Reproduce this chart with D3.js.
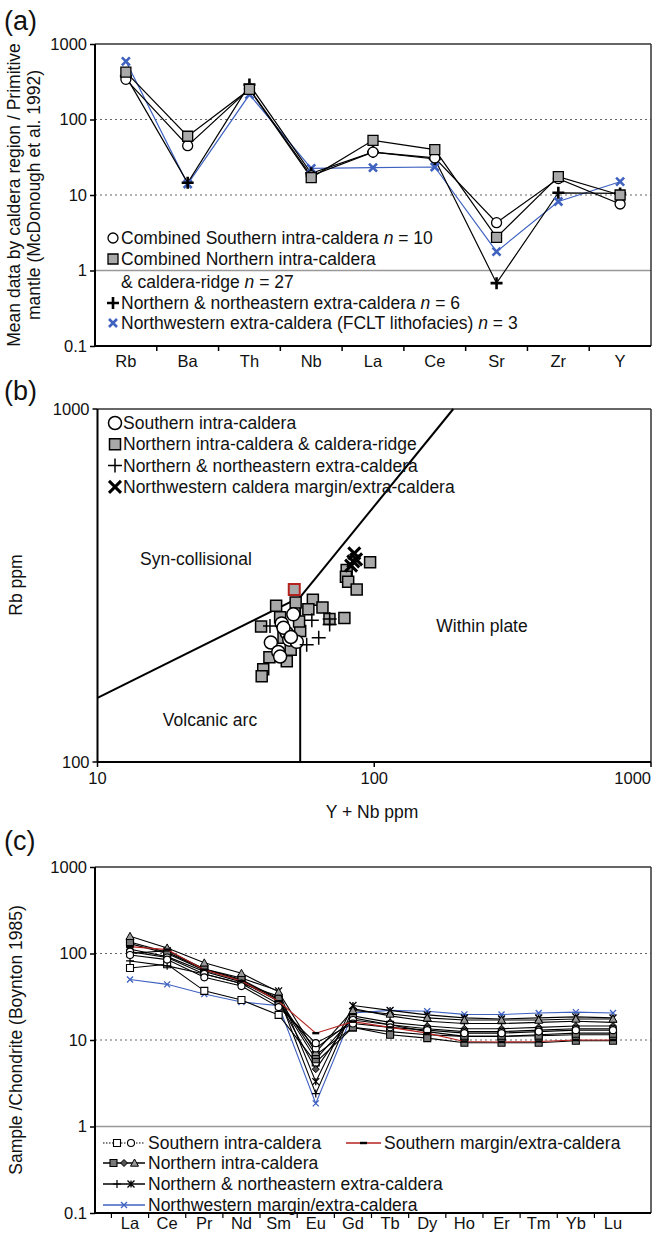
<!DOCTYPE html>
<html lang="en">
<head>
<meta charset="UTF-8">
<title>Trace element diagrams</title>
<script src="https://d3js.org/d3.v7.min.js"></script>
<style>
  * { margin: 0; padding: 0; box-sizing: border-box; }
  body { background: #fff; }
  svg { display: block; font-family: "Liberation Sans", Arial, sans-serif; }
</style>
</head>
<body>
<div id="container"></div>
<script>
// ---- panel (a): primitive-mantle normalised means ----
const elementsA = ["Rb", "Ba", "Th", "Nb", "La", "Ce", "Sr", "Zr", "Y"];
const aSouthern = [340, 45, 255, 18, 37, 31, 4.3, 16.5, 7.6];
const aNorthern = [425, 60, 250, 17, 53, 40, 2.75, 17.5, 10];
const aNorthExtra = [375, 14.5, 290, 19.4, 37, 30, 0.68, 10.7, 10.5];
const aNorthwest = [590, 14, 214, 22.5, 23, 23.5, 1.78, 8.2, 15];
const ticksLog = [0.1, 1, 10, 100, 1000];

// ---- panel (b): Rb vs Y+Nb (values are [Y+Nb, Rb]) ----
const bSouthern = [[51, 262], [46.3, 247], [48.3, 232], [42.3, 218], [49.3, 222],
  [52.5, 219], [45, 205], [45.7, 199], [47, 240], [50, 226]];
const bNorthern = [[44.2, 277], [52, 283], [60, 288], [65, 274], [57.8, 271], [78, 256],
  [68.9, 254], [39, 242], [54, 235], [45.7, 257], [49.9, 208], [41.8, 198], [48.3, 193],
  [39.7, 183], [39.2, 175], [96.6, 368], [79.5, 350], [79, 335], [80.5, 324], [86.4, 308],
  [53.5, 250], [47, 225]];
const bNorthernFlagged = [[51.4, 308]];
const bNorthExtra = [[59.5, 252], [69, 254], [69, 245], [63, 225], [57, 215], [42, 243]];
const bNorthwest = [[84.7, 390], [84, 370], [82.5, 360], [86, 375]];
const bBoundaries = [[[10, 152], [54, 293]], [[54, 293], [193, 1000]], [[54, 100], [54, 293]]];
const bTicksX = [10, 100, 1000];
const bTicksY = [100, 1000];

// ---- panel (c): chondrite-normalised REE ----
const ree = ["La", "Ce", "Pr", "Nd", "Sm", "Eu", "Gd", "Tb", "Dy", "Ho", "Er", "Tm", "Yb", "Lu"];
const cSouthSq = [68, 75, 37, 29, 19.5, 5.5, 14, 12.5, 11.5, 11, 11, 11.5, 12, 12];
const cSouthCirc1 = [96, 85, 53, 42, 24, 9.2, 15.5, 14, 13, 12, 12, 12.5, 13, 13];
const cSouthCirc2 = [105, 90, 58, 45, 26, 8, 17, 15, 13.5, 12.5, 12.5, 13, 13.5, 13.5];
const cNorthTri = [158, 116, 78, 59, 36, 7.2, 22, 20, 18, 17, 17, 17, 17.5, 17.5];
const cNorthSq1 = [136, 103, 66, 50, 30, 6.7, 14, 11.5, 10.5, 9.3, 9.3, 9.3, 9.8, 9.8];
const cNorthDia = [112, 92, 62, 47, 28, 4.6, 19, 16, 14.5, 13.5, 13.5, 14, 14.5, 14.5];
const cNorthSq2 = [130, 100, 64, 49, 29, 6, 18, 15, 12.5, 11, 11, 11.2, 11.5, 11.5];
const cExtraAst = [100, 108, 66, 52, 37, 3.3, 25, 22, 19.5, 18, 17.5, 18, 18.5, 18];
const cExtraPlus = [82, 72, 58, 45, 32, 2.4, 23, 19, 16.5, 15.5, 15.5, 16, 16.5, 16];
const cSouthMargin = [120, 111, 65, 48, 28, 12, 16.3, 14, 12, 9.6, 9.5, 9.6, 10, 10];
const cNorthwest = [50, 44, 34, 27.5, 25, 1.85, 20.5, 22, 21.5, 19.8, 19.7, 20.5, 21, 20.5];

const BLUE = "#3f62c0";
const RED = "#b5231f";
const GREY = "#a9a9a9";
const FS = 17.5;   // legend / label font
const TS = 16.5;   // tick font

const svg = d3.select("#container").append("svg")
  .attr("width", 653).attr("height", 1234);

// marker shapes as path strings
function shape(type, s) {
  const h = s / 2;
  switch (type) {
    case "square": return `M${-h},${-h}h${s}v${s}h${-s}Z`;
    case "circle": return `M${h},0A${h},${h} 0 1,1 ${-h},0A${h},${h} 0 1,1 ${h},0Z`;
    case "diamond": return `M0,${-h}L${h},0L0,${h}L${-h},0Z`;
    case "triangle": return `M0,${-h}L${h},${h * 0.8}L${-h},${h * 0.8}Z`;
    case "plus": return `M${-h},0H${h}M0,${-h}V${h}`;
    case "cross": return `M${-h},${-h}L${h},${h}M${-h},${h}L${h},${-h}`;
    case "star": return `M${-h},${-h}L${h},${h}M${-h},${h}L${h},${-h}M0,${-h}V${h}`;
    case "dash": return `M${-h},0H${h}`;
  }
}

function marker(g, x, y, st) {
  g.append("path")
    .attr("transform", `translate(${x},${y})`)
    .attr("d", shape(st.type, st.size))
    .attr("fill", st.fill || "none")
    .attr("stroke", st.stroke || "#000")
    .attr("stroke-width", st.sw || 1.2);
}

function frame(g, x0, x1, y0, y1) {
  g.append("line").attr("x1", x0).attr("x2", x1).attr("y1", y0).attr("y2", y0)
    .attr("stroke", "#333").attr("stroke-width", 1.5);
  g.append("line").attr("x1", x1).attr("x2", x1).attr("y1", y0).attr("y2", y1)
    .attr("stroke", "#333").attr("stroke-width", 1.5);
  g.append("line").attr("x1", x0).attr("x2", x1).attr("y1", y1).attr("y2", y1)
    .attr("stroke", "#000").attr("stroke-width", 2);
  g.append("line").attr("x1", x0).attr("x2", x0).attr("y1", y0).attr("y2", y1)
    .attr("stroke", "#000").attr("stroke-width", 2);
}

const fmtLog = d => d >= 1 ? d3.format("d")(d) : String(d);

function logYAxis(g, y, x0, vals) {
  const ax = g.append("g").attr("transform", `translate(${x0},0)`)
    .call(d3.axisLeft(y).tickValues(vals).tickFormat(fmtLog).tickSize(5).tickPadding(3));
  ax.select(".domain").remove();
  ax.selectAll("text").attr("font-size", TS).attr("fill", "#111");
  ax.selectAll("line").attr("stroke", "#000").attr("stroke-width", 1.5);
}

function gridLines(g, y, x0, x1) {
  [100, 10].forEach(v => g.append("line")
    .attr("x1", x0).attr("x2", x1).attr("y1", y(v)).attr("y2", y(v))
    .attr("stroke", "#666").attr("stroke-width", 1.2).attr("stroke-dasharray", "2,3"));
  g.append("line").attr("x1", x0).attr("x2", x1).attr("y1", y(1)).attr("y2", y(1))
    .attr("stroke", "#999").attr("stroke-width", 1.5);
}

function panelLabel(txt, x, y) {
  svg.append("text").attr("x", x).attr("y", y).attr("font-size", 27).attr("fill", "#111").text(txt);
}

function rotLabel(lines, x, cy, size) {
  const t = svg.append("text").attr("transform", `translate(${x},${cy}) rotate(-90)`)
    .attr("text-anchor", "middle").attr("font-size", size).attr("fill", "#111");
  lines.forEach((l, i) => t.append("tspan").attr("x", 0).attr("dy", i ? "1.15em" : 0).text(l));
}

// legend text with italic "n"
function legendText(g, x, y, parts, size) {
  const t = g.append("text").attr("x", x).attr("y", y).attr("dy", "0.35em")
    .attr("font-size", size).attr("fill", "#111");
  parts.forEach(p => t.append("tspan").attr("font-style", p.i ? "italic" : null).text(p.t));
}

// ================= (a) =================
{
  const x0 = 95, x1 = 651, y0 = 44, y1 = 346;
  const g = svg.append("g");
  const x = d3.scaleBand(elementsA, [x0, x1]);
  const y = d3.scaleLog([0.1, 1000], [y1, y0]);
  const cx = d => x(d) + x.bandwidth() / 2;

  gridLines(g, y, x0, x1);
  frame(g, x0, x1, y0, y1);
  logYAxis(g, y, x0, ticksLog);

  elementsA.slice(1).forEach(d => g.append("line")
    .attr("x1", x(d)).attr("x2", x(d)).attr("y1", y1).attr("y2", y1 + 5)
    .attr("stroke", "#000").attr("stroke-width", 1.5));
  elementsA.forEach(d => g.append("text").attr("x", cx(d)).attr("y", y1 + 21)
    .attr("text-anchor", "middle").attr("font-size", TS).attr("fill", "#111").text(d));

  const series = [
    { v: aNorthwest, color: BLUE, m: { type: "cross", size: 8, stroke: BLUE, sw: 2.6 } },
    { v: aNorthExtra, color: "#000", m: { type: "plus", size: 12, sw: 2.6 } },
    { v: aSouthern, color: "#000", m: { type: "circle", size: 10, fill: "#fff", sw: 1.3 } },
    { v: aNorthern, color: "#000", m: { type: "square", size: 10, fill: GREY, sw: 1.3 } }
  ];
  const line = d3.line().x((d, i) => cx(elementsA[i])).y(d => y(d));
  series.forEach(s => g.append("path").attr("d", line(s.v)).attr("fill", "none")
    .attr("stroke", s.color).attr("stroke-width", 1.2));
  series.forEach(s => s.v.forEach((v, i) => marker(g, cx(elementsA[i]), y(v), s.m)));

  const lg = g.append("g");
  const lx = 113, tx = 121;
  marker(lg, lx, 238, series[2].m);
  legendText(lg, tx, 238, [{ t: "Combined Southern intra-caldera " }, { t: "n", i: 1 }, { t: " = 10" }], FS);
  marker(lg, lx, 259, series[3].m);
  legendText(lg, tx, 259, [{ t: "Combined Northern intra-caldera" }], FS);
  legendText(lg, tx, 282, [{ t: "& caldera-ridge " }, { t: "n", i: 1 }, { t: " = 27" }], FS);
  marker(lg, lx, 303, series[1].m);
  legendText(lg, tx, 303, [{ t: "Northern & northeastern extra-caldera " }, { t: "n", i: 1 }, { t: " = 6" }], FS);
  marker(lg, lx, 323, series[0].m);
  legendText(lg, tx, 323, [{ t: "Northwestern extra-caldera (FCLT lithofacies) " }, { t: "n", i: 1 }, { t: " = 3" }], FS);

  panelLabel("(a)", 4, 30);
  rotLabel(["Mean data by caldera region / Primitive", "mantle (McDonough et al. 1992)"], 20, 195, FS);
}

// ================= (b) =================
{
  const x0 = 97.5, x1 = 651, y0 = 409, y1 = 762;
  const g = svg.append("g");
  const x = d3.scaleLog([10, 1000], [x0, x1]);
  const y = d3.scaleLog([100, 1000], [y1, y0]);

  frame(g, x0, x1, y0, y1);
  bTicksY.forEach(v => {
    g.append("line").attr("x1", x0 - 5).attr("x2", x0).attr("y1", y(v)).attr("y2", y(v))
      .attr("stroke", "#000").attr("stroke-width", 1.5);
    g.append("text").attr("x", x0 - 8).attr("y", y(v)).attr("dy", "0.35em")
      .attr("text-anchor", "end").attr("font-size", TS).attr("fill", "#111").text(v);
  });
  bTicksX.forEach((v, i) => {
    const last = i === bTicksX.length - 1;
    g.append("line").attr("x1", x(v)).attr("x2", x(v)).attr("y1", y1).attr("y2", y1 + 5)
      .attr("stroke", "#000").attr("stroke-width", 1.5);
    g.append("text").attr("x", x(v)).attr("y", y1 + 22)
      .attr("text-anchor", last ? "end" : "middle")
      .attr("font-size", TS).attr("fill", "#111").text(v);
  });

  const bl = d3.line().x(d => x(d[0])).y(d => y(d[1]));
  bBoundaries.forEach(seg => g.append("path").attr("d", bl(seg))
    .attr("fill", "none").attr("stroke", "#000").attr("stroke-width", 2));

  const txt = (t, px, py) => g.append("text").attr("x", px).attr("y", py).attr("dy", "0.35em")
    .attr("text-anchor", "middle").attr("font-size", FS).attr("fill", "#111").text(t);
  txt("Syn-collisional", 196, 559);
  txt("Within plate", 482, 626);
  txt("Volcanic arc", 210, 720);

  const mSq = { type: "square", size: 11, fill: GREY, sw: 1.5 };
  const mSqRed = { type: "square", size: 11, fill: GREY, stroke: RED, sw: 2 };
  const mCirc = { type: "circle", size: 13, fill: "#fff", sw: 1.5 };
  const mPlus = { type: "plus", size: 14, sw: 1.5 };
  const mX = { type: "cross", size: 12, sw: 3 };

  bNorthern.forEach(d => marker(g, x(d[0]), y(d[1]), mSq));
  bNorthernFlagged.forEach(d => marker(g, x(d[0]), y(d[1]), mSqRed));
  bSouthern.forEach(d => marker(g, x(d[0]), y(d[1]), mCirc));
  bNorthExtra.forEach(d => marker(g, x(d[0]), y(d[1]), mPlus));
  bNorthwest.forEach(d => marker(g, x(d[0]), y(d[1]), mX));

  const lg = g.append("g");
  [[mCirc, "Southern intra-caldera"], [mSq, "Northern intra-caldera & caldera-ridge"],
   [mPlus, "Northern & northeastern extra-caldera"], [mX, "Northwestern caldera margin/extra-caldera"]]
    .forEach(([m, t], i) => {
      const ry = 423 + i * 21.3;
      marker(lg, 115, ry, m);
      legendText(lg, 123, ry, [{ t }], FS);
    });

  panelLabel("(b)", 4, 400);
  rotLabel(["Rb ppm"], 22, 585, FS);
  svg.append("text").attr("x", 372).attr("y", 812).attr("dy", "0.35em").attr("text-anchor", "middle")
    .attr("font-size", FS).attr("fill", "#111").text("Y + Nb ppm");
}

// ================= (c) =================
{
  const x0 = 95, x1 = 651, y0 = 867, y1 = 1213;
  const g = svg.append("g");
  const x = d3.scalePoint(ree, [130, 613]);
  const y = d3.scaleLog([0.1, 1000], [y1, y0]);

  gridLines(g, y, x0, x1);
  frame(g, x0, x1, y0, y1);
  logYAxis(g, y, x0, ticksLog);
  const step = x.step();
  ree.forEach(d => g.append("line")
    .attr("x1", x(d) - step / 2).attr("x2", x(d) - step / 2).attr("y1", y1).attr("y2", y1 + 5)
    .attr("stroke", "#000").attr("stroke-width", 1.2));
  ree.forEach(d => g.append("text").attr("x", x(d)).attr("y", y1 + 16)
    .attr("text-anchor", "middle").attr("font-size", TS).attr("fill", "#111").text(d));

  const oSq = { type: "square", size: 7, fill: "#fff", sw: 1.1 };
  const oCirc = { type: "circle", size: 7, fill: "#fff", sw: 1.1 };
  const gSq = { type: "square", size: 7, fill: "#777", sw: 1.1 };
  const dia = { type: "diamond", size: 7, fill: "#555", sw: 1 };
  const tri = { type: "triangle", size: 8, fill: "#999", sw: 1 };
  const plus = { type: "plus", size: 8, sw: 1.2 };
  const star = { type: "star", size: 7, sw: 1.3 };
  const dash = { type: "dash", size: 7, sw: 2.4 };
  const bx = { type: "cross", size: 6, stroke: BLUE, sw: 1.3 };

  const series = [
    { v: cNorthwest, color: BLUE, m: bx },
    { v: cSouthSq, color: "#000", m: oSq },
    { v: cExtraPlus, color: "#000", m: plus },
    { v: cExtraAst, color: "#000", m: star },
    { v: cNorthDia, color: "#000", m: dia },
    { v: cNorthSq2, color: "#000", m: gSq },
    { v: cNorthSq1, color: "#000", m: gSq },
    { v: cNorthTri, color: "#000", m: tri },
    { v: cSouthCirc2, color: "#000", m: oCirc },
    { v: cSouthCirc1, color: "#000", m: oCirc },
    { v: cSouthMargin, color: RED, m: dash }
  ];
  const line = d3.line().x((d, i) => x(ree[i])).y(d => y(d));
  series.forEach(s => {
    g.append("path").attr("d", line(s.v)).attr("fill", "none")
      .attr("stroke", s.color).attr("stroke-width", 1.1);
    s.v.forEach((v, i) => marker(g, x(ree[i]), y(v), s.m));
  });

  // legend
  const lg = g.append("g");
  const row = (ry, x0s, x1s, color, dashed, ms, label, tx) => {
    lg.append("line").attr("x1", x0s).attr("x2", x1s).attr("y1", ry).attr("y2", ry)
      .attr("stroke", color).attr("stroke-width", dashed ? 1 : 1.3)
      .attr("stroke-dasharray", dashed ? "1.5,1.5" : null);
    ms.forEach((m, i) => marker(lg, x0s + (x1s - x0s) * (i + 1) / (ms.length + 1), ry, m));
    legendText(lg, tx, ry, [{ t: label }], FS);
  };
  row(1143, 103, 145, "#000", true, [oSq, oCirc], "Southern intra-caldera", 148);
  row(1143, 346, 381, RED, false, [dash], "Southern margin/extra-caldera", 384);
  row(1163, 103, 145, "#000", false, [gSq, dia, tri], "Northern intra-caldera", 148);
  row(1184, 103, 145, "#000", false, [plus, star], "Northern & northeastern extra-caldera", 148);
  row(1205, 103, 145, BLUE, false, [bx], "Northwestern margin/extra-caldera", 148);

  panelLabel("(c)", 4, 850);
  rotLabel(["Sample /Chondrite (Boynton 1985)"], 22, 1040, FS);
}
</script>
</body>
</html>
